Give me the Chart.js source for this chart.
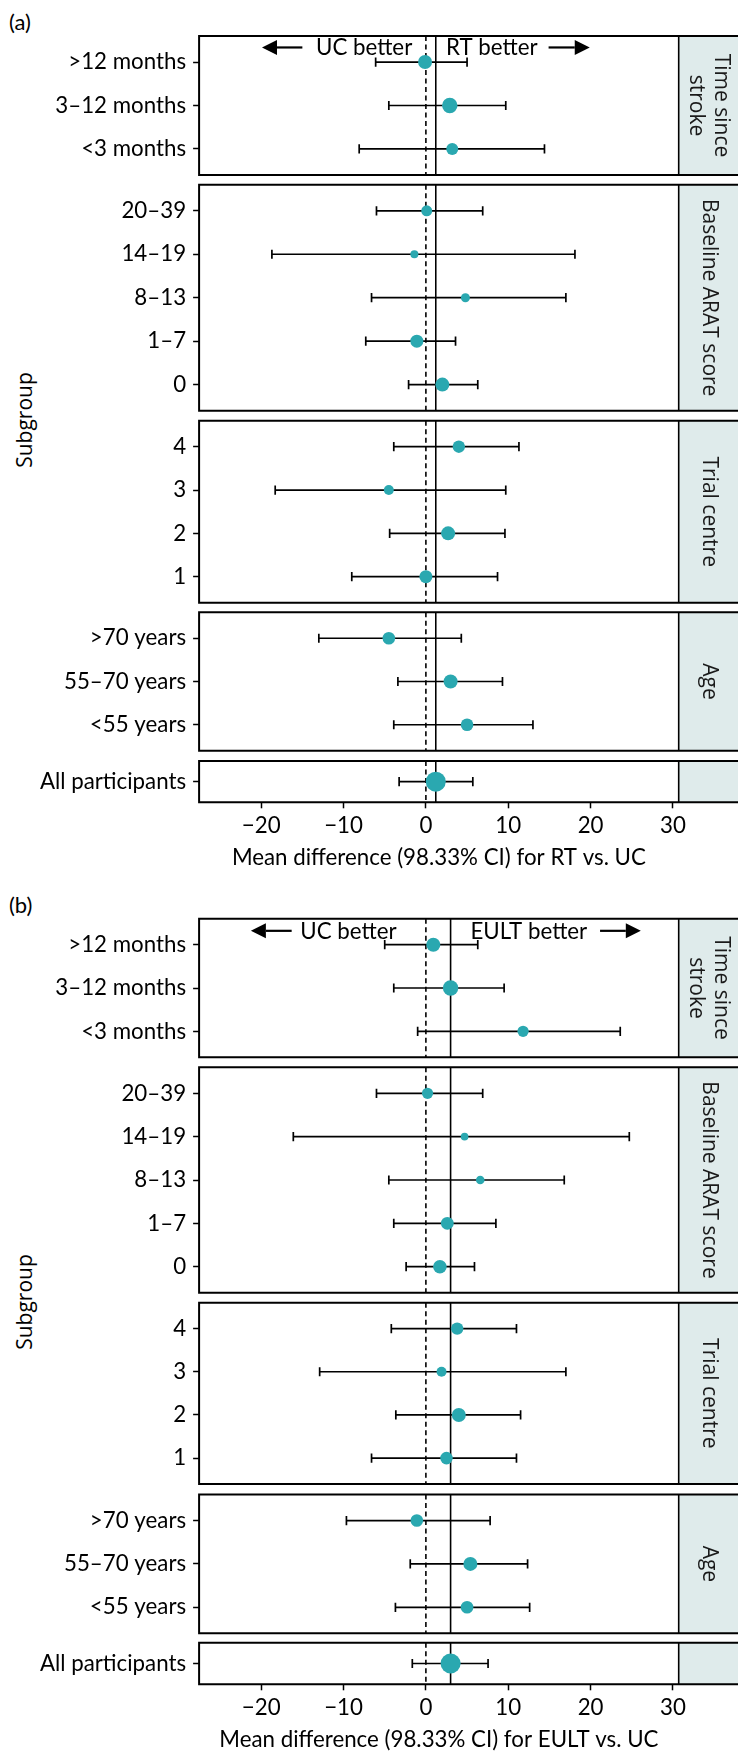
<!DOCTYPE html>
<html><head><meta charset="utf-8">
<script src="https://cdn.jsdelivr.net/npm/chart.js@4.4.1/dist/chart.umd.min.js"></script>
<style>
html,body{margin:0;padding:0;background:#fff}
body{width:738px;height:1751px;position:relative;overflow:hidden}
canvas{position:absolute;left:0}
.lab{position:absolute;font-family:Lato,sans-serif;font-size:22px;line-height:26px;color:#000;white-space:nowrap}
.ylab{position:absolute;font-family:"Open Sans",sans-serif;font-size:21px;line-height:26px;color:#000;white-space:nowrap;transform:translate(-50%,-50%) rotate(-90deg)}
</style></head><body>
<div class="lab" style="left:9px;top:9px">(a)</div>
<div class="lab" style="left:9px;top:892px">(b)</div>
<div class="ylab" style="left:24px;top:420px">Subgroup</div>
<div class="ylab" style="left:24px;top:1302px">Subgroup</div>
<script>
// ---------------- DATA ----------------
const stripNames = ["Time since\nstroke", "Baseline ARAT score", "Trial centre", "Age", ""];
const timeLabels = [">12 months", "3–12 months", "<3 months"];
const aratLabels = ["20–39", "14–19", "8–13", "1–7", "0"];
const centreLabels = ["4", "3", "2", "1"];
const ageLabels = [">70 years", "55–70 years", "<55 years"];
const allLabels = ["All participants"];
const xTicks = [-20, -10, 0, 10, 20, 30];
const xTitleA = "Mean difference (98.33% CI) for RT vs. UC";
const xTitleB = "Mean difference (98.33% CI) for EULT vs. UC";

// (a) RT vs UC : estimate, lower, upper, weight
const rtTimeEst = [-0.1, 2.9, 3.2];
const rtTimeLo  = [-6.1, -4.5, -8.1];
const rtTimeHi  = [5.0, 9.7, 14.4];
const rtTimeWt  = [70, 77, 60];
const rtAratEst = [0.1, -1.4, 4.8, -1.1, 2.0];
const rtAratLo  = [-6.0, -18.7, -6.6, -7.3, -2.1];
const rtAratHi  = [6.9, 18.1, 17.0, 3.6, 6.3];
const rtAratWt  = [55, 40, 45, 65, 70];
const rtCentreEst = [4.0, -4.5, 2.7, 0.0];
const rtCentreLo  = [-3.9, -18.3, -4.4, -9.0];
const rtCentreHi  = [11.3, 9.7, 9.6, 8.7];
const rtCentreWt  = [62, 50, 70, 65];
const rtAgeEst = [-4.5, 3.0, 5.0];
const rtAgeLo  = [-13.0, -3.4, -3.9];
const rtAgeHi  = [4.3, 9.3, 13.0];
const rtAgeWt  = [63, 70, 63];
const rtAllEst = [1.2];
const rtAllLo  = [-3.25];
const rtAllHi  = [5.7];
const rtAllWt  = [100];

// (b) EULT vs UC
const euTimeEst = [0.9, 3.0, 11.8];
const euTimeLo  = [-5.0, -3.9, -1.0];
const euTimeHi  = [6.3, 9.5, 23.6];
const euTimeWt  = [70, 77, 56];
const euAratEst = [0.2, 4.7, 6.6, 2.6, 1.7];
const euAratLo  = [-6.0, -16.1, -4.5, -3.9, -2.4];
const euAratHi  = [6.9, 24.7, 16.8, 8.5, 5.9];
const euAratWt  = [56, 38, 43, 64, 68];
const euCentreEst = [3.8, 1.9, 4.0, 2.5];
const euCentreLo  = [-4.2, -12.9, -3.65, -6.6];
const euCentreHi  = [11.0, 17.0, 11.5, 11.0];
const euCentreWt  = [62, 50, 70, 63];
const euAgeEst = [-1.1, 5.4, 5.0];
const euAgeLo  = [-9.65, -1.9, -3.7];
const euAgeHi  = [7.8, 12.35, 12.6];
const euAgeWt  = [63, 70, 63];
const euAllEst = [3.0];
const euAllLo  = [-1.65];
const euAllHi  = [7.55];
const euAllWt  = [100];

// ---------------- LAYOUT / STYLE ----------------
const X_MIN = -27.54, X_MAX = 30.70;
const PLOT_LEFT = 199.1, PLOT_RIGHT = 678.7, W = 738;
const TEAL = '#2aa8b0';
const STRIP_FILL = '#dfebeb';
const FS = 22.3;
const boxesA = [[36,175],[184.7,410.7],[420.7,602.7],[612.3,750.7],[761,802.3]];
const boxesB = [[918.7,1057.3],[1067.3,1292.7],[1302.7,1484],[1494.5,1633.3],[1642.7,1684.3]];

const fmt = v => v < 0 ? '−' + Math.abs(v) : String(v);

const panelDeco = {
  id: 'panelDeco',
  beforeDatasetsDraw(chart, args, o) {
    const {ctx, chartArea: a} = chart;
    ctx.save();
    ctx.fillStyle = STRIP_FILL;
    ctx.fillRect(a.right, a.top, chart.width - a.right, a.bottom - a.top);
    ctx.restore();
  },
  afterDatasetsDraw(chart, args, o) {
    const {ctx, scales} = chart;
    ctx.save();
    if (o.annot) {
      const an = o.annot;
      const y = scales.y.getPixelForValue(an.y);
      ctx.fillStyle = '#000'; ctx.strokeStyle = '#000';
      ctx.font = FS + 'px Lato';
      ctx.textBaseline = 'alphabetic'; ctx.textAlign = 'center';
      ctx.fillText(an.leftText, scales.x.getPixelForValue(an.leftTextX), y + 7.8);
      ctx.fillText(an.rightText, scales.x.getPixelForValue(an.rightTextX), y + 7.8);
      const arrow = (x0, x1) => {
        const p0 = scales.x.getPixelForValue(x0), p1 = scales.x.getPixelForValue(x1);
        const dir = Math.sign(p1 - p0), hl = 15, hw = 7.5;
        ctx.lineWidth = 2.2;
        ctx.beginPath(); ctx.moveTo(p0, y); ctx.lineTo(p1 - dir * hl, y); ctx.stroke();
        ctx.beginPath(); ctx.moveTo(p1, y); ctx.lineTo(p1 - dir * hl, y - hw); ctx.lineTo(p1 - dir * hl, y + hw); ctx.closePath(); ctx.fill();
      };
      arrow(an.leftArrow[0], an.leftArrow[1]);
      arrow(an.rightArrow[0], an.rightArrow[1]);
    }
    ctx.restore();
  },
  afterDraw(chart, args, o) {
    const {ctx, chartArea: a} = chart;
    ctx.save();
    if (o.strip) {
      const lines = o.strip.split('\n');
      const cx = (a.right + chart.width) / 2 + 0.5, cy = (a.top + a.bottom) / 2;
      ctx.translate(cx, cy); ctx.rotate(Math.PI / 2);
      ctx.font = '21px "Open Sans"'; ctx.fillStyle = '#1a1a1a';
      ctx.textAlign = 'center'; ctx.textBaseline = 'middle';
      const lh = 25;
      lines.forEach((t, i) => ctx.fillText(t, 0, (i - (lines.length - 1) / 2) * lh));
      ctx.setTransform(1, 0, 0, 1, 0, 0);
    }
    ctx.strokeStyle = '#000';
    ctx.lineWidth = 1.6;
    ctx.beginPath(); ctx.moveTo(a.right, a.top); ctx.lineTo(a.right, a.bottom); ctx.stroke();
    ctx.lineWidth = 2;
    ctx.beginPath();
    ctx.moveTo(chart.width + 2, a.top); ctx.lineTo(a.left, a.top); ctx.lineTo(a.left, a.bottom); ctx.lineTo(chart.width + 2, a.bottom);
    ctx.stroke();
    ctx.restore();
  }
};

function makePanel(box, labels, est, lo, hi, wt, overall, strip, xTitle, annot) {
  const [top, bottom] = box;
  const n = labels.length;
  const axisH = xTitle ? 68.4 : 0;
  const cTop = Math.floor(top) - 4;
  const cH = Math.ceil(bottom + 4 + axisH) - cTop;
  const padTop = top - cTop;
  const padBottom = cH - axisH - (bottom - cTop);
  const canvas = document.createElement('canvas');
  canvas.width = W; canvas.height = cH;
  canvas.style.top = cTop + 'px';
  canvas.style.width = W + 'px'; canvas.style.height = cH + 'px';
  document.body.appendChild(canvas);
  const yMin = -0.6, yMax = n - 1 + 0.6;

  const datasets = [];
  datasets.push({ type: 'scatter', data: est.map((v, i) => ({x: v, y: i})),
    pointRadius: wt.map(w => w / 10), pointHoverRadius: wt.map(w => w / 10),
    backgroundColor: TEAL, borderWidth: 0, order: 0 });
  datasets.push({ type: 'scatter',
    data: lo.map((v, i) => ({x: v, y: i})).concat(hi.map((v, i) => ({x: v, y: i}))),
    pointStyle: 'line', rotation: 90, pointRadius: 4.6, pointHoverRadius: 4.6,
    borderColor: '#000', borderWidth: 1.7, order: 1 });
  est.forEach((_, i) => datasets.push({ type: 'line', data: [{x: lo[i], y: i}, {x: hi[i], y: i}],
    borderColor: '#000', borderWidth: 1.7, pointRadius: 0, order: 2 }));
  datasets.push({ type: 'line', data: [{x: 0, y: yMin}, {x: 0, y: yMax}],
    borderColor: '#000', borderWidth: 1.6, borderDash: [5, 3.5], pointRadius: 0, order: 3 });
  datasets.push({ type: 'line', data: [{x: overall, y: yMin}, {x: overall, y: yMax}],
    borderColor: '#000', borderWidth: 1.6, pointRadius: 0, order: 3 });

  new Chart(canvas, {
    type: 'scatter',
    data: { datasets },
    plugins: [panelDeco],
    options: {
      responsive: false, animation: false, devicePixelRatio: 1,
      layout: { autoPadding: false, padding: { top: padTop, bottom: padBottom, left: 0, right: W - PLOT_RIGHT } },
      plugins: { legend: { display: false }, tooltip: { enabled: false },
        panelDeco: { strip, annot } },
      scales: {
        x: {
          type: 'linear', min: X_MIN, max: X_MAX, display: !!xTitle,
          afterBuildTicks: s => { s.ticks = xTicks.map(v => ({value: v})); },
          afterFit: s => { s.height = axisH; s.paddingLeft = 0; s.paddingRight = 0; },
          grid: { drawOnChartArea: false, drawTicks: true, tickLength: 6, tickColor: '#000', tickWidth: 1.5 },
          border: { display: false },
          ticks: { padding: 4.6, color: '#000', font: { family: 'Lato', size: FS }, maxRotation: 0, autoSkip: false, callback: v => fmt(v) },
          title: { display: !!xTitle, text: xTitle || '', color: '#000', font: { family: 'Lato', size: FS }, padding: 0 }
        },
        y: {
          type: 'linear', reverse: true, min: yMin, max: yMax,
          afterBuildTicks: s => { s.ticks = labels.map((_, i) => ({value: i})); },
          afterFit: s => { s.width = PLOT_LEFT; s.paddingTop = 0; s.paddingBottom = 0; },
          grid: { drawOnChartArea: false, drawTicks: true, tickLength: 6, tickColor: '#000', tickWidth: 1.5 },
          border: { display: false },
          ticks: { padding: 7, color: '#000', font: { family: 'Lato', size: FS }, autoSkip: false, callback: v => labels[v] }
        }
      }
    }
  });
}

const annotA = { y: -0.336, leftText: 'UC better', leftTextX: -7.5, rightText: 'RT better', rightTextX: 8.0,
  leftArrow: [-15.0, -19.9], rightArrow: [14.9, 19.9] };
const annotB = { y: -0.32, leftText: 'UC better', leftTextX: -9.4, rightText: 'EULT better', rightTextX: 12.5,
  leftArrow: [-16.3, -21.25], rightArrow: [21.15, 26.1] };

// (a)
makePanel(boxesA[0], timeLabels, rtTimeEst, rtTimeLo, rtTimeHi, rtTimeWt, rtAllEst[0], stripNames[0], null, annotA);
makePanel(boxesA[1], aratLabels, rtAratEst, rtAratLo, rtAratHi, rtAratWt, rtAllEst[0], stripNames[1], null, null);
makePanel(boxesA[2], centreLabels, rtCentreEst, rtCentreLo, rtCentreHi, rtCentreWt, rtAllEst[0], stripNames[2], null, null);
makePanel(boxesA[3], ageLabels, rtAgeEst, rtAgeLo, rtAgeHi, rtAgeWt, rtAllEst[0], stripNames[3], null, null);
makePanel(boxesA[4], allLabels, rtAllEst, rtAllLo, rtAllHi, rtAllWt, rtAllEst[0], stripNames[4], xTitleA, null);
// (b)
makePanel(boxesB[0], timeLabels, euTimeEst, euTimeLo, euTimeHi, euTimeWt, euAllEst[0], stripNames[0], null, annotB);
makePanel(boxesB[1], aratLabels, euAratEst, euAratLo, euAratHi, euAratWt, euAllEst[0], stripNames[1], null, null);
makePanel(boxesB[2], centreLabels, euCentreEst, euCentreLo, euCentreHi, euCentreWt, euAllEst[0], stripNames[2], null, null);
makePanel(boxesB[3], ageLabels, euAgeEst, euAgeLo, euAgeHi, euAgeWt, euAllEst[0], stripNames[3], null, null);
makePanel(boxesB[4], allLabels, euAllEst, euAllLo, euAllHi, euAllWt, euAllEst[0], stripNames[4], xTitleB, null);
</script>
</body></html>
